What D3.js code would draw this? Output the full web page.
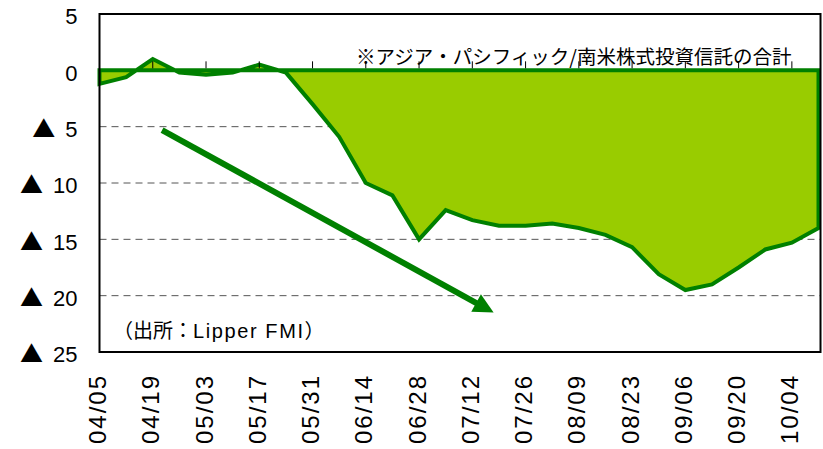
<!DOCTYPE html>
<html>
<head>
<meta charset="utf-8">
<script src="https://cdn.jsdelivr.net/npm/d3@7"></script>
<style>
  body { margin: 0; background: #fff; }
  svg { display: block; }
  .ylab { font-family: "Liberation Sans", Arial, sans-serif; font-size: 22px; fill: #000; }
  .tri { font-family: "Noto Sans CJK JP", sans-serif; font-size: 23px; }
  .xlab { font-family: "Liberation Sans", Arial, sans-serif; font-size: 24px; letter-spacing: 2px; fill: #000; }
  .note { font-family: "Noto Sans CJK JP", sans-serif; font-size: 19.5px; fill: #000; }
  .src { font-family: "Noto Sans CJK JP", sans-serif; font-size: 20px; fill: #000; }
  .src .lat { font-family: "Liberation Sans", Arial, sans-serif; font-size: 20px; letter-spacing: 1.6px; }
</style>
</head>
<body>
<div id="chart"></div>
<script>
// weekly dates (category axis)
const dates = ["04/05","04/12","04/19","04/26","05/03","05/10","05/17","05/24",
  "05/31","06/07","06/14","06/21","06/28","07/05","07/12","07/19","07/26",
  "08/02","08/09","08/16","08/23","08/30","09/06","09/13","09/20","09/27",
  "10/04","10/11"];

// net flow values
const values = [-1.2,-0.6,1.0,-0.2,-0.4,-0.2,0.5,-0.2,-3.0,-5.9,-10.0,-11.1,
  -15.0,-12.4,-13.3,-13.8,-13.8,-13.6,-14.0,-14.6,-15.7,-18.1,-19.5,-19.0,
  -17.5,-15.9,-15.3,-14.0];

// labelled dates on the x axis (every two weeks)
const xTickLabels = ["04/05","04/19","05/03","05/17","05/31","06/14","06/28",
  "07/12","07/26","08/09","08/23","09/06","09/20","10/04"];

const yTicks = [5, 0, -5, -10, -15, -20, -25];
const yTickLabels = ["5","0","▲ 5","▲ 10","▲ 15","▲ 20","▲ 25"];
const gridValues = [-5, -10, -15, -20];

// trend arrow, in data units (category index, value)
const arrowFrom = [2.35, -5.3];
const arrowTo = [14.8, -21.5];

const noteText = "※アジア・パシフィック/南米株式投資信託の合計";
const sourceParts = ["（出所：", "Lipper FMI", "）"];

const width = 823, height = 449;
const plot = {left: 99.5, right: 820.5, top: 14, bottom: 352};

const svg = d3.select("#chart").append("svg")
    .attr("width", width)
    .attr("height", height);

const x = d3.scaleLinear()
    .domain([0, dates.length - 1])
    .range([plot.left, 818.5]);
const y = d3.scaleLinear()
    .domain([-25, 5])
    .range([plot.bottom, plot.top]);

const data = values.map((v, i) => ({i: i, v: v}));

//dashed grid lines
svg.append("g").selectAll("line")
    .data(gridValues)
    .enter().append("line")
    .attr("x1", plot.left)
    .attr("x2", plot.right)
    .attr("y1", d => y(d))
    .attr("y2", d => y(d))
    .attr("stroke", "#555")
    .attr("stroke-width", 1)
    .attr("stroke-dasharray", "7,5");

//area between the series and zero, with its border
let area = d3.area()
    .x(d => x(d.i))
    .y0(y(0))
    .y1(d => y(d.v));

svg.append("path")
    .datum(data)
    .attr("d", area)
    .attr("fill", "#99cc00")
    .attr("stroke", "#008000")
    .attr("stroke-width", 4)
    .attr("stroke-linejoin", "miter");

//small tick marks on the zero line
svg.append("g").selectAll("line")
    .data(xTickLabels)
    .enter().append("line")
    .attr("x1", d => x(dates.indexOf(d)))
    .attr("x2", d => x(dates.indexOf(d)))
    .attr("y1", y(0) - 2)
    .attr("y2", y(0) - 9)
    .attr("stroke", "#000")
    .attr("stroke-width", 1);

//plot frame
svg.append("rect")
    .attr("x", plot.left)
    .attr("y", plot.top)
    .attr("width", plot.right - plot.left)
    .attr("height", plot.bottom - plot.top)
    .attr("fill", "none")
    .attr("stroke", "#000")
    .attr("stroke-width", 2);

//y axis labels (triangle marks negatives)
let yAxis = d3.axisLeft(y)
    .tickValues(yTicks)
    .tickSize(0)
    .tickPadding(22)
    .tickFormat(() => "");
let yg = svg.append("g")
    .attr("transform", "translate(" + plot.left + ",0)")
    .call(yAxis);
yg.select(".domain").remove();
yg.selectAll(".tick text")
    .attr("class", "ylab")
    .attr("dy", "0.45em")
    .each(function(d, i) {
        let t = d3.select(this);
        let lab = yTickLabels[i];
        if (lab.startsWith("▲")) {
            t.append("tspan").attr("class", "tri").text("▲");
            t.append("tspan").attr("dx", 10).text(lab.slice(2));
        } else {
            t.text(lab);
        }
    });

//x axis labels, rotated
svg.append("g").selectAll("text")
    .data(xTickLabels)
    .enter().append("text")
    .attr("class", "xlab")
    .attr("text-anchor", "end")
    .attr("dy", "0.27em")
    .attr("transform", d => "translate(" + x(dates.indexOf(d)) + ",374) rotate(-90)")
    .text(d => d);

//trend arrow
let p0 = [x(arrowFrom[0]), y(arrowFrom[1])];
let p1 = [x(arrowTo[0]), y(arrowTo[1])];
let ang = Math.atan2(p1[1] - p0[1], p1[0] - p0[0]);
let headLen = 20, headHalf = 10;
let ux = Math.cos(ang), uy = Math.sin(ang);
let lineEnd = [p1[0] - ux * (headLen - 4), p1[1] - uy * (headLen - 4)];
svg.append("line")
    .attr("x1", p0[0]).attr("y1", p0[1])
    .attr("x2", lineEnd[0]).attr("y2", lineEnd[1])
    .attr("stroke", "#008000")
    .attr("stroke-width", 6);
let base = [p1[0] - ux * headLen, p1[1] - uy * headLen];
svg.append("path")
    .attr("d", "M" + p1[0] + "," + p1[1] +
        "L" + (base[0] - uy * headHalf) + "," + (base[1] + ux * headHalf) +
        "L" + (base[0] + uy * headHalf) + "," + (base[1] - ux * headHalf) + "Z")
    .attr("fill", "#008000");

//annotations
svg.append("text")
    .attr("class", "note")
    .attr("x", 356)
    .attr("y", 64)
    .text(noteText);

let src = svg.append("text")
    .attr("class", "src")
    .attr("x", 113)
    .attr("y", 338);
src.append("tspan").text(sourceParts[0]);
src.append("tspan").attr("class", "lat").text(sourceParts[1]);
src.append("tspan").text(sourceParts[2]);
</script>
</body>
</html>
